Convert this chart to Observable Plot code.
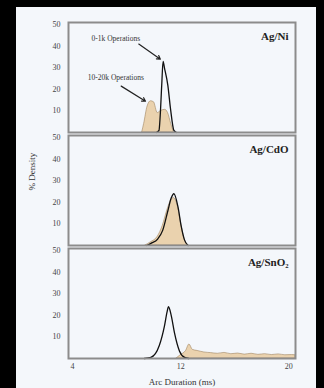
<!DOCTYPE html>
<html>
<head>
<meta charset="utf-8">
<script src="https://cdn.jsdelivr.net/npm/d3@7"></script>
<script src="https://cdn.jsdelivr.net/npm/@observablehq/plot@0.6"></script>
<style>
  html, body { margin: 0; padding: 0; background: #000; }
  body { width: 324px; height: 388px; overflow: hidden; position: relative; }
  #card { position: absolute; left: 16px; top: 7px; width: 300px; height: 381px; background: #f4f7fb; }
  #card svg { display: block; background: #f4f7fb; }
</style>
</head>
<body>
<div id="card"></div>
<script>
// ---- data ----
const alloys = ["Ag/Ni", "Ag/CdO", "Ag/SnO₂"];
const groupNew = "0-1k Operations";
const groupOld = "10-20k Operations";
const xTicks = [4, 12, 20];
const yTicks = [10, 20, 30, 40, 50];

// Ag/Ni
const niNewX = [10.2, 10.4, 10.47, 10.6, 10.7, 10.8, 11.05, 11.25, 11.5, 11.7];
const niNewY = [0, 1, 6, 22, 33, 30, 22, 11, 1, 0];
const niOldX = [9.15, 9.3, 9.55, 9.8, 10.03, 10.3, 10.55, 10.85, 11.07, 11.3, 11.5];
const niOldY = [0, 4, 12, 14.5, 14, 9, 10, 10.5, 9, 4, 0];

// Ag/CdO
const cdoNewX = [9.5, 9.8, 10.3, 10.67, 11.05, 11.3, 11.5, 11.8, 12.04, 12.29, 12.55];
const cdoNewY = [0, 1, 3, 7, 16, 22, 24, 18, 9, 2.5, 0];
const cdoOldX = [9.4, 9.8, 10.3, 10.67, 11.05, 11.3, 11.5, 11.8, 12.04, 12.29, 12.6];
const cdoOldY = [0, 1.5, 4, 9, 17, 21, 22, 18, 10, 3, 0];

// Ag/SnO2
const snoNewX = [9.3, 9.8, 10.42, 10.8, 11.0, 11.1, 11.3, 11.54, 11.91, 12.29, 12.6];
const snoNewY = [0, 0.5, 6, 15, 21.7, 24, 20, 12, 3.5, 0.5, 0];
const snoOldX = [11.7, 12.0, 12.4, 12.65, 12.9, 13.25, 13.75, 14.25, 14.75, 15.25, 15.75, 16.25, 16.75, 17.25, 17.75, 18.25, 18.75, 19.25, 19.75, 20.25, 20.5];
const snoOldY = [0, 1.5, 3.5, 6.5, 4, 3.5, 2.8, 2.5, 2.2, 2.6, 2, 2.3, 1.8, 2.2, 1.7, 2, 1.6, 1.9, 1.5, 1.6, 1.5];

// annotations (Ag/Ni panel)
const noteText = [groupNew, groupOld];
const noteX = [7.2, 7.2];
const noteY = [43.5, 25.5];
const arrowX1 = [8.9, 7.6];
const arrowY1 = [41, 21.5];
const arrowX2 = [10.5, 9.4];
const arrowY2 = [34, 14.5];

// ---- build tables ----
function rows(alloy, group, xs, ys) {
  return xs.map((x, i) => ({alloy, group, x, y: ys[i]}));
}
const newRows = [
  ...rows(alloys[0], groupNew, niNewX, niNewY),
  ...rows(alloys[1], groupNew, cdoNewX, cdoNewY),
  ...rows(alloys[2], groupNew, snoNewX, snoNewY)
];
const oldRows = [
  ...rows(alloys[0], groupOld, niOldX, niOldY),
  ...rows(alloys[1], groupOld, cdoOldX, cdoOldY),
  ...rows(alloys[2], groupOld, snoOldX, snoOldY)
];
const notes = noteText.map((t, i) => ({alloy: alloys[0], t, x: noteX[i], y: noteY[i]}));
const arrows = arrowX1.map((x1, i) => ({alloy: alloys[0], x1, y1: arrowY1[i], x2: arrowX2[i], y2: arrowY2[i]}));

const serif = "'Liberation Serif', 'DejaVu Serif', serif";

const chart = Plot.plot({
  width: 300,
  height: 381,
  marginLeft: 52,
  marginRight: 21,
  marginTop: 14,
  marginBottom: 29,
  style: {fontFamily: serif, fontSize: "8px", color: "#444", background: "#f4f7fb"},
  x: {domain: [3.7, 20.5], ticks: xTicks, tickSize: 0, tickPadding: 5, label: null},
  y: {domain: [0, 51], ticks: yTicks, tickSize: 0, tickPadding: 8, label: null},
  fy: {domain: alloys, axis: null, paddingInner: 0.03, paddingOuter: 0},
  marks: [
    Plot.areaY(oldRows, {x: "x", y: "y", fy: "alloy", z: "alloy", fill: "#ead2ae", stroke: "#a08462", strokeWidth: 0.6, curve: "monotone-x"}),
    Plot.lineY(newRows, {x: "x", y: "y", fy: "alloy", z: "alloy", stroke: "#111", strokeWidth: 1.3, curve: "monotone-x"}),
    Plot.frame({stroke: "#8c8c8c", strokeWidth: 2}),
    Plot.text(alloys, {fy: d => d, text: d => d, frameAnchor: "top-right", lineAnchor: "middle", dx: -7, dy: 14, fontSize: 11, fontWeight: "bold", fill: "#222"}),
    Plot.text(notes, {x: "x", y: "y", fy: "alloy", text: "t", fontSize: 7.5, fill: "#333"}),
    Plot.arrow(arrows, {x1: "x1", y1: "y1", x2: "x2", y2: "y2", fy: "alloy", stroke: "#222", strokeWidth: 1.2, headLength: 5, bend: false}),
    Plot.text([{alloy: alloys[2], t: "Arc Duration (ms)"}], {fy: "alloy", text: "t", frameAnchor: "bottom", lineAnchor: "middle", dy: 24, fontSize: 9, fill: "#333"}),
    Plot.text([{alloy: alloys[1], t: "% Density"}], {fy: "alloy", text: "t", frameAnchor: "left", rotate: -90, dx: -36, fontSize: 9, fill: "#333"})
  ]
});
document.getElementById("card").appendChild(chart);
</script>
</body>
</html>
